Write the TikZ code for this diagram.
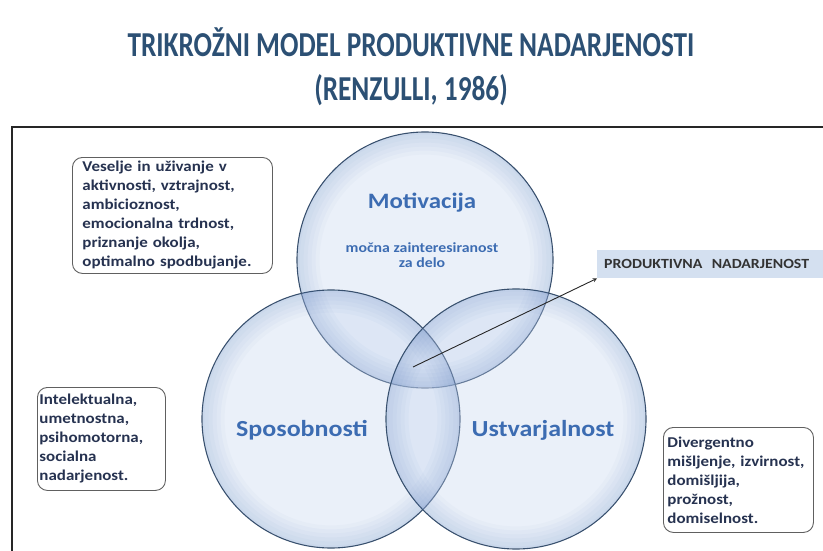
\documentclass[tikz,border=0pt]{standalone}
\usepackage{fontspec}
\setmainfont{Carlito}[FakeStretch=1.13]
\newfontfamily\titlefont{Carlito}[FakeStretch=0.78]
\usetikzlibrary{positioning}

\definecolor{titleblue}{RGB}{44,80,116}
\definecolor{labelblue}{RGB}{60,108,178}
\definecolor{vennin}{RGB}{196,212,238}
\definecolor{vennedge}{RGB}{78,118,185}
\definecolor{vennline}{RGB}{56,80,110}
\definecolor{notetext}{RGB}{38,50,80}
\definecolor{prodfill}{RGB}{212,224,240}

\tikzset{
  venn/.style={circle, minimum size=#1, inner sep=0pt, fill=vennin,
    fill opacity=0.35, draw=vennline, line width=1.1pt},
  notebox/.style={draw=gray!75!black, rounded corners=10pt, line width=0.9pt,
    fill=white, align=left, anchor=north west, text=notetext,
    font=\bfseries\fontsize{15}{19}\selectfont, inner ysep=0pt},
  circlabel/.style={text=labelblue, font=\bfseries\fontsize{23}{27}\selectfont},
  titletext/.style={text=titleblue, font=\titlefont\bfseries\fontsize{35}{40}\selectfont},
}

\begin{document}
\begin{tikzpicture}[>=stealth, x=1pt, y=-1pt]
\useasboundingbox (0,0) rectangle (823,551);

% naslov
\node[titletext] (title) at (411,42) {TRIKROŽNI MODEL PRODUKTIVNE NADARJENOSTI};
\node[titletext] (year) at (411,90) {(RENZULLI, 1986)};

% okvir
\draw[line width=1.6pt, gray!30!black] (12,551) |- (823,127);

% trije krogi
\node[venn=256pt] (mot) at (425,260) {};
\node[venn=258pt] (spo) at (331,419) {};
\node[venn=260pt] (ust) at (516,419) {};
% sij ob robu
\foreach \c/\R in {mot/128, spo/129, ust/130}
  \foreach \w in {22,18,...,2}
    \draw[vennedge, line width=\w pt, draw opacity=0.035] (\c.center) circle [radius={(\R-0.6-\w/2)*1pt}];

\node[circlabel, font=\bfseries\fontsize{22}{26}\selectfont] (motlbl) at (422,203) {Motivacija};
\node[text=labelblue, align=center, font=\bfseries\fontsize{14}{15}\selectfont] (motsub) at (422,255) {močna zainteresiranost\\za delo};
\node[circlabel] (spolbl) at (302,430) {Sposobnosti};
\node[circlabel] (ustlbl) at (543,430) {Ustvarjalnost};

% opombe
\node[notebox, text width=180pt, minimum width=200pt, minimum height=116pt, inner xsep=10pt] (motnote) at (72,157)
  {Veselje in uživanje v\\aktivnosti, vztrajnost,\\ambicioznost,\\emocionalna trdnost,\\priznanje okolja,\\optimalno spodbujanje.};
\node[notebox, text width=124pt, minimum width=128pt, minimum height=103pt, inner xsep=2pt] (sponote) at (37,387)
  {Intelektualna,\\umetnostna,\\psihomotorna,\\socialna\\nadarjenost.};
\node[notebox, text width=142pt, minimum width=150pt, minimum height=105pt, inner xsep=4pt] (ustnote) at (663,427)
  {Divergentno\\mišljenje, izvirnost,\\domišljija,\\prožnost,\\domiselnost.};

% rezultat
\node[fill=prodfill, anchor=north west, minimum width=226pt, minimum height=28pt, text width=212pt, inner xsep=7pt,
  align=left, text=black!80, font=\bfseries\fontsize{14}{16}\selectfont] (prod) at (597,250) {PRODUKTIVNA\ \ NADARJENOST};
\coordinate (core) at (413,367);
\draw[->, line width=0.9pt, black!85] (core) -- (prod.south west);

\end{tikzpicture}
\end{document}
